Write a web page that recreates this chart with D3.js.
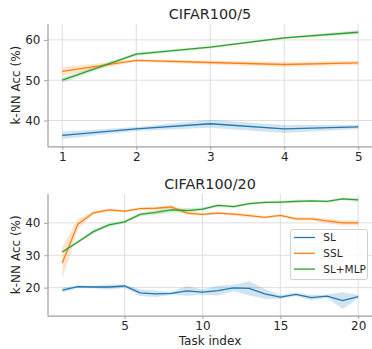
<!DOCTYPE html>
<html><head><meta charset="utf-8">
<script src="https://cdn.jsdelivr.net/npm/d3@7"></script>
<style>body{margin:0;background:#fff}svg{display:block}text{font-family:"DejaVu Sans",sans-serif;fill:#262626}</style>
</head><body><svg id="c" width="372" height="349"></svg>
<script>
const seriesNames = ["SL", "SSL", "SL+MLP"];
const colors = ["#1f77b4", "#ff7f0e", "#2ca02c"];

// CIFAR100/5
const tasks5 = [1, 2, 3, 4, 5];
const sl5 = [36.3, 37.9, 39.2, 37.9, 38.4];
const sl5Std = [0.9, 0.5, 1.0, 1.0, 0.5];
const ssl5 = [52.2, 54.9, 54.4, 53.9, 54.3];
const ssl5Std = [1.0, 0.3, 0.5, 0.6, 0.5];
const mlp5 = [50.0, 56.5, 58.2, 60.5, 61.9];
const mlp5Std = [0.6, 0.4, 0.3, 0.3, 0.5];
const yTicks5 = [40, 50, 60];
const xTicks5 = [1, 2, 3, 4, 5];

// CIFAR100/20
const tasks20 = d3.range(1, 21);
const sl20 = [19.2, 20.3, 20.2, 20.2, 20.5, 18.4, 18.1, 18.2, 19.0, 18.6, 19.1, 19.9, 19.8, 18.1, 17.1, 17.9, 16.9, 17.4, 16.0, 17.2];
const sl20Std = [0.8, 0.4, 0.4, 0.8, 0.5, 1.0, 1.0, 0.5, 1.5, 0.8, 1.5, 1.0, 2.2, 1.5, 0.6, 0.5, 0.8, 0.5, 2.6, 0.5];
const ssl20 = [27.6, 39.6, 43.1, 44.0, 43.6, 44.4, 44.5, 44.9, 43.0, 42.6, 43.0, 42.7, 42.2, 41.7, 42.3, 41.2, 41.2, 40.6, 40.0, 40.0];
const ssl20Std = [5.0, 1.5, 0.5, 0.4, 0.4, 0.4, 0.5, 0.5, 0.5, 0.4, 0.4, 0.5, 0.5, 0.4, 0.4, 0.5, 0.5, 0.7, 0.8, 0.8];
const mlp20 = [31.0, 34.1, 37.3, 39.4, 40.3, 42.6, 43.2, 44.0, 43.8, 44.2, 45.4, 45.0, 45.9, 46.3, 46.4, 46.6, 46.8, 46.6, 47.4, 47.1];
const mlp20Std = [0.5, 0.5, 0.6, 0.5, 0.5, 0.6, 0.8, 0.8, 0.8, 0.5, 0.4, 0.4, 0.4, 0.4, 0.4, 0.5, 0.4, 0.4, 0.4, 0.6];
const yTicks20 = [20, 30, 40];
const xTicks20 = [5, 10, 15, 20];

const svg = d3.select("#c");
const LEFT = 47.5, RIGHT = 373;

function panel(cfg) {
  const g = svg.append("g");
  const x = d3.scaleLinear().domain(cfg.xDomain).range([LEFT, RIGHT]);
  const y = d3.scaleLinear().domain(cfg.yDomain).range([cfg.bottom, cfg.top]);
  g.selectAll(".gx").data(cfg.xTicks).enter().append("line")
    .attr("x1", d => x(d)).attr("x2", d => x(d)).attr("y1", cfg.top).attr("y2", cfg.bottom)
    .attr("stroke", "#dadada").attr("stroke-width", 0.9);
  g.selectAll(".gy").data(cfg.yTicks).enter().append("line")
    .attr("x1", LEFT).attr("x2", RIGHT).attr("y1", d => y(d)).attr("y2", d => y(d))
    .attr("stroke", "#dadada").attr("stroke-width", 0.9);
  const series = [0, 1, 2].map(i => [cfg.data[i], cfg.std[i]]);
  series.forEach(([vals, sd], i) => {
    const pts = cfg.xs.map((t, j) => ({t, v: vals[j], s: sd[j]}));
    g.append("path").datum(pts)
      .attr("d", d3.area().x(d => x(d.t)).y0(d => y(d.v - d.s)).y1(d => y(d.v + d.s)))
      .attr("fill", colors[i]).attr("fill-opacity", 0.2).attr("stroke", "none");
  });
  series.forEach(([vals], i) => {
    const pts = cfg.xs.map((t, j) => ({t, v: vals[j]}));
    g.append("path").datum(pts)
      .attr("d", d3.line().x(d => x(d.t)).y(d => y(d.v)))
      .attr("fill", "none").attr("stroke", colors[i]).attr("stroke-width", 1.3);
  });
  const xa = g.append("g").attr("transform", `translate(0,${cfg.bottom})`)
    .call(d3.axisBottom(x).tickValues(cfg.xTicks).tickSize(3.5).tickPadding(2.5).tickFormat(d3.format("d")));
  const ya = g.append("g").attr("transform", `translate(${LEFT},0)`)
    .call(d3.axisLeft(y).tickValues(cfg.yTicks).tickSize(3.5).tickPadding(3.5).tickFormat(d3.format("d")));
  [xa, ya].forEach(a => {
    a.select(".domain").attr("stroke", "#a0a0a0").attr("stroke-width", 1.25);
    a.selectAll(".tick line").attr("stroke", "#a0a0a0");
    a.selectAll(".tick text").attr("font-size", 12).attr("fill", "#262626").attr("font-family", "DejaVu Sans");
  });
  xa.select(".domain").attr("d", `M${LEFT},0.5H${RIGHT}`);
  ya.select(".domain").attr("d", `M0.5,${cfg.top}V${cfg.bottom}`);
  g.append("text").attr("x", 210).attr("y", cfg.top - 5.5).attr("text-anchor", "middle")
    .attr("font-size", 14.4).text(cfg.title);
  g.append("text").attr("transform", `translate(20,${(cfg.top + cfg.bottom) / 2}) rotate(-90)`)
    .attr("text-anchor", "middle").attr("font-size", 12).text("k-NN Acc (%)");
  return {g, x, y};
}

panel({xs: tasks5, xDomain: [0.8, 5.2], yDomain: [33.6, 63.95], top: 24, bottom: 146.3,
  xTicks: xTicks5, yTicks: yTicks5, title: "CIFAR100/5",
  data: [sl5, ssl5, mlp5], std: [sl5Std, ssl5Std, mlp5Std]});

panel({xs: tasks20, xDomain: [0.05, 20.95], yDomain: [11.4, 48.9], top: 194, bottom: 315.5,
  xTicks: xTicks20, yTicks: yTicks20, title: "CIFAR100/20",
  data: [sl20, ssl20, mlp20], std: [sl20Std, ssl20Std, mlp20Std]});

svg.append("text").attr("x", 210).attr("y", 345).attr("text-anchor", "middle")
  .attr("font-size", 12).text("Task index");

const lg = svg.append("g").attr("transform", "translate(290,229)");
lg.append("rect").attr("x", 0.5).attr("y", 0.5).attr("width", 77).attr("height", 50).attr("rx", 2)
  .attr("fill", "#fff").attr("fill-opacity", 0.8).attr("stroke", "#d0d0d0");
seriesNames.forEach((n, i) => {
  const yy = 8.5 + i * 15.8;
  lg.append("line").attr("x1", 4).attr("x2", 25).attr("y1", yy).attr("y2", yy)
    .attr("stroke", colors[i]).attr("stroke-width", 1.3);
  lg.append("text").attr("x", 33.3).attr("y", yy + 3.9).attr("font-size", 10.5).text(n);
});
</script></body></html>
